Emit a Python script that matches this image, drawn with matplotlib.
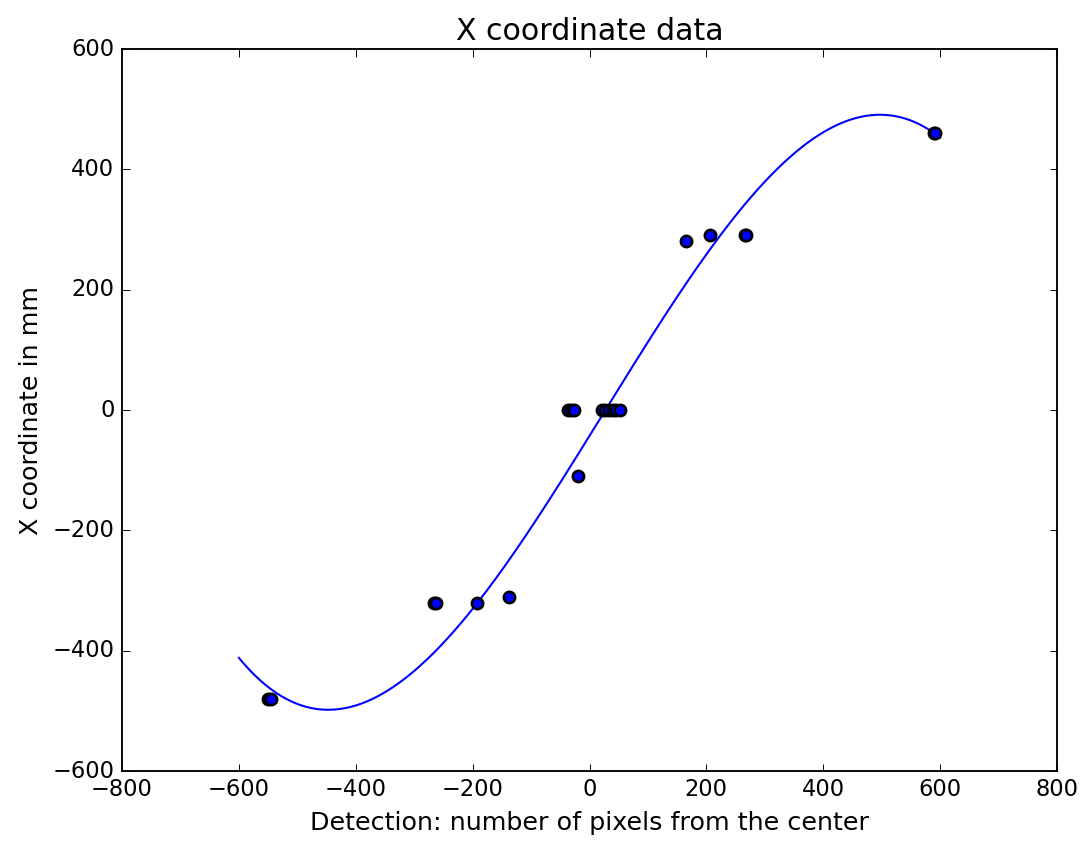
import numpy as np
import matplotlib
matplotlib.use('Agg')
import matplotlib.pyplot as plt

plt.style.use('classic')

# detections (pixels from center) and measured X coordinate (mm)
pixels = [-550, -545, -266, -262, -192, -137, -37, -32, -26, -20,
          21, 27, 33, 40, 46, 52, 165, 206, 266, 268, 590, 592]
x_mm = [-480, -480, -320, -320, -320, -310, 0, 0, 0, -110,
        0, 0, 0, 0, 0, 0, 281, 291, 291, 291, 461, 461]

# cubic calibration curve (highest power first)
fit_coef = [-2.351e-6, 1.7636e-4, 1.567, -43.0]
fit_range = (-600, 600)

xs = np.linspace(fit_range[0], fit_range[1], 400)
ys = np.polyval(fit_coef, xs)

fig = plt.figure(figsize=(1082/135, 842/135), dpi=135, facecolor='white')
ax = fig.add_axes([122/1082, 1 - 771/842, 935/1082, 722/842])

ax.plot(xs, ys, 'b-', lw=1.1)
ax.plot(pixels, x_mm, 'bo', mew=1.4)

ax.set_xlim(-800, 800)
ax.set_ylim(-600, 600)
ax.set_title('X coordinate data', fontsize=16)
ax.set_xlabel('Detection: number of pixels from the center', fontsize=13.5)
ax.set_ylabel('X coordinate in mm', fontsize=13.5)

fig.savefig('out.png', dpi=135, facecolor='white')
